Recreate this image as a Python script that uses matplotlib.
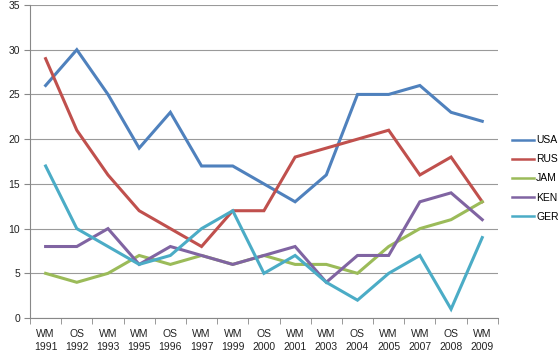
import matplotlib
matplotlib.use("Agg")
import matplotlib.pyplot as plt
import numpy as np

categories = ["WM\n1991", "OS\n1992", "WM\n1993", "WM\n1995", "OS\n1996", "WM\n1997",
              "WM\n1999", "OS\n2000", "WM\n2001", "WM\n2003", "OS\n2004", "WM\n2005",
              "WM\n2007", "OS\n2008", "WM\n2009"]
usa = [26, 30, 25, 19, 23, 17, 17, 15, 13, 16, 25, 25, 26, 23, 22]
rus = [29, 21, 16, 12, 10, 8, 12, 12, 18, 19, 20, 21, 16, 18, 13]
jam = [5, 4, 5, 7, 6, 7, 6, 7, 6, 6, 5, 8, 10, 11, 13]
ken = [8, 8, 10, 6, 8, 7, 6, 7, 8, 4, 7, 7, 13, 14, 11]
ger = [17, 10, 8, 6, 7, 10, 12, 5, 7, 4, 2, 5, 7, 1, 9]
series = [("USA", usa, "#4F81BD"), ("RUS", rus, "#C0504D"), ("JAM", jam, "#9BBB59"),
          ("KEN", ken, "#8064A2"), ("GER", ger, "#4BACC6")]
yticks = [0, 5, 10, 15, 20, 25, 30, 35]

plt.rcParams['font.family'] = ['Liberation Sans', 'DejaVu Sans']
fig = plt.figure(figsize=(5.6, 3.55), dpi=100)
ax = fig.add_axes([0.0536, 0.104, 0.889 - 0.0536, 0.986 - 0.104])
x = np.arange(len(categories))
for name, vals, col in series:
    ax.plot(x, vals, color=col, lw=2.2, label=name, solid_joinstyle='miter')

ax.set_xlim(-0.5, len(categories) - 0.5)
ax.set_ylim(0, 35)
ax.set_yticks(yticks)
ax.set_yticklabels([str(v) for v in yticks], fontsize=7.5, color="#222222")
ax.set_xticks(x)
ax.set_xticklabels(categories, fontsize=7.5, color="#222222", linespacing=1.3)
ax.set_xticks(np.arange(-0.5, len(categories), 1.0), minor=True)
ax.tick_params(axis='x', which='major', length=0, pad=8)
ax.tick_params(axis='x', which='minor', length=4, color="#888888", direction='out')
ax.tick_params(axis='y', length=4, color="#888888", direction='out', pad=3)
ax.grid(axis='y', color="#9a9a9a", lw=0.8)
ax.set_axisbelow(True)
for s in ['top', 'right']:
    ax.spines[s].set_visible(False)
for s in ['left', 'bottom']:
    ax.spines[s].set_color("#888888")
    ax.spines[s].set_linewidth(0.8)

leg = fig.legend(loc='upper left', bbox_to_anchor=(0.906, 0.631), frameon=False,
                 fontsize=7.5, handlelength=2.2, handletextpad=0.15, labelspacing=0.88,
                 borderaxespad=0)
for h in leg.get_lines():
    h.set_linewidth(1.8)
fig.savefig("out.png", dpi=100)
